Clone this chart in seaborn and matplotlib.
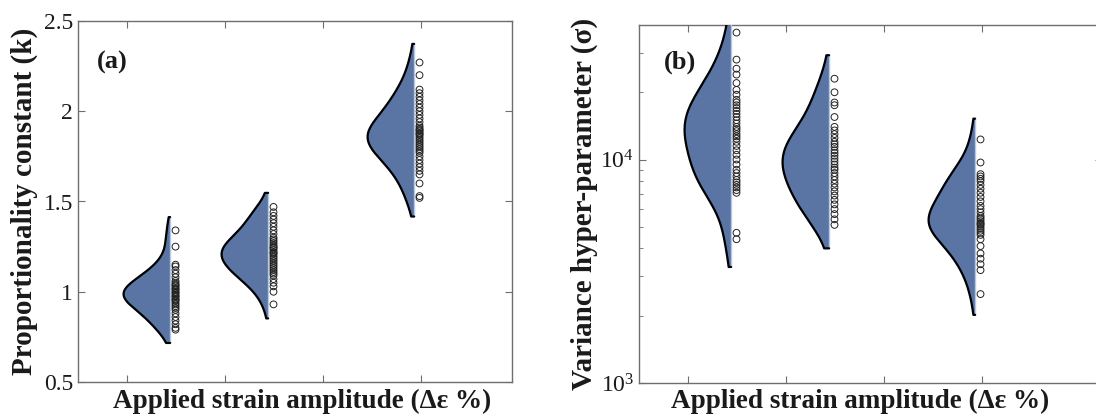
import numpy as np
import pandas as pd
import matplotlib
matplotlib.use("Agg")
import matplotlib.pyplot as plt
import seaborn as sns
from matplotlib.ticker import LogLocator, NullFormatter, FixedLocator

# ---------------- data ----------------
positions = [1.44, 2.44, 3.93]
x_ticks = [1, 2, 3, 4]

k_low = [1.34, 1.25, 1.15, 1.14, 1.12, 1.10, 1.08, 1.06, 1.05, 1.04, 1.035, 1.03,
         1.02, 1.015, 1.01, 1.00, 0.995, 0.99, 0.98, 0.975, 0.97, 0.96, 0.955,
         0.95, 0.94, 0.93, 0.92, 0.91, 0.90, 0.88, 0.86, 0.84, 0.82, 0.80, 0.79]
k_mid = [1.47, 1.44, 1.42, 1.40, 1.38, 1.36, 1.34, 1.32, 1.30, 1.29, 1.28, 1.27,
         1.26, 1.25, 1.245, 1.24, 1.23, 1.22, 1.215, 1.21, 1.20, 1.19, 1.18, 1.17,
         1.16, 1.15, 1.14, 1.13, 1.12, 1.11, 1.10, 1.09, 1.07, 1.05, 1.03, 1.00,
         0.93]
k_high = [2.27, 2.20, 2.12, 2.10, 2.08, 2.06, 2.04, 2.02, 2.00, 1.98, 1.96, 1.94,
          1.92, 1.91, 1.90, 1.895, 1.89, 1.88, 1.875, 1.87, 1.86, 1.85, 1.84, 1.83,
          1.82, 1.81, 1.80, 1.79, 1.78, 1.77, 1.75, 1.73, 1.71, 1.69, 1.67, 1.65,
          1.60, 1.53, 1.52]

s_low = [37000, 28000, 25500, 24000, 22000, 20500, 19500, 18500, 18000, 17500,
         17000, 16500, 16000, 15500, 15000, 14500, 14000, 13700, 13400, 13000,
         12700, 12400, 12000, 11500, 11000, 10500, 10000, 9500, 9000, 8700,
         8400, 8100, 7900, 7700, 7500, 7300, 7100, 4700, 4400]
s_mid = [23000, 20000, 18000, 17500, 15500, 14000, 13500, 13000, 12500, 12000,
         11700, 11400, 11000, 10700, 10400, 10100, 9800, 9500, 9200, 9000, 8700,
         8400, 8100, 7800, 7500, 7200, 6900, 6600, 6300, 6000, 5700, 5400, 5100]
s_high = [12300, 9700, 8600, 8400, 8200, 8000, 7700, 7400, 7100, 6800, 6500,
          6200, 6000, 5800, 5600, 5500, 5400, 5300, 5200, 5150, 5100, 5000, 4900,
          4800, 4700, 4600, 4400, 4100, 3800, 3600, 3400, 3200, 2500]

k_groups = [k_low, k_mid, k_high]
s_groups = [s_low, s_mid, s_high]

xlabel = "Applied strain amplitude (\u0394\u03b5 %)"
ylabel_a = "Proportionality constant (k)"
ylabel_b = "Variance hyper-parameter (\u03c3)"

# ---------------- style ----------------
VCOL = "#5a75a3"
CENTER = "#b4c8e8"
SPINE = "#6e6e6e"
TXT = "#1a1a1a"

sns.set_theme(style="white")
plt.rcParams["font.family"] = ["Liberation Serif", "DejaVu Serif"]
plt.rcParams["mathtext.fontset"] = "custom"
plt.rcParams["mathtext.rm"] = "Liberation Serif"
plt.rcParams["mathtext.it"] = "Liberation Serif:italic"
plt.rcParams["mathtext.bf"] = "Liberation Serif:bold"


def long_df(groups):
    return pd.DataFrame({
        "pos": np.repeat(positions, [len(g) for g in groups]),
        "val": np.concatenate([np.asarray(g, float) for g in groups]),
    })


def draw_panel(ax, groups, log):
    df = long_df(groups)
    n_before = len(ax.collections)
    sns.violinplot(data=df, x="pos", y="val", native_scale=True,
                   inner=None, cut=1.1, bw_adjust=1.15, gridsize=200,
                   density_norm="width", width=0.95,
                   color=VCOL, saturation=1, linewidth=0,
                   log_scale=(False, True) if log else None, ax=ax)
    bodies = list(ax.collections[n_before:])
    for coll in bodies:
        coll.set_edgecolor("none")
        v = coll.get_paths()[0].vertices.copy()
        pos = 0.5 * (v[:, 0].min() + v[:, 0].max())
        left = v[v[:, 0] < pos - 1e-9]
        left = left[np.argsort(left[:, 1])]
        half = v.copy()
        half[:, 0] = np.minimum(half[:, 0], pos)
        coll.set_verts([half])
        y0, y1 = v[:, 1].min(), v[:, 1].max()
        ax.vlines(pos, y0, y1, color=CENTER, lw=1.0, zorder=3)
        cx = np.concatenate([[pos], left[:, 0], [pos]])
        cy = np.concatenate([[y0], left[:, 1], [y1]])
        ax.plot(cx, cy, color="black", lw=1.6, zorder=4)
    sns.scatterplot(x=df["pos"] + 0.055, y=df["val"], ax=ax, marker="o", s=24,
                    facecolor="none", edgecolor="#222222", linewidth=0.7,
                    legend=False, zorder=5)
    ax.set_xticks(x_ticks)
    ax.set_xticklabels([])
    for s in ax.spines.values():
        s.set_color(SPINE)
        s.set_linewidth(1.0)
    ax.tick_params(which="both", direction="in", top=True, right=True,
                   bottom=True, left=True, color=SPINE, labelsize=17,
                   labelcolor=TXT)
    ax.tick_params(which="major", length=5, width=0.8)
    ax.tick_params(which="minor", length=3, width=0.6)


fig = plt.figure(figsize=(10.96, 4.15), dpi=100)
axA = fig.add_axes([78 / 1096, 33 / 415, 434 / 1096, 361 / 415])
axB = fig.add_axes([639 / 1096, 32 / 415, 463 / 1096, 358 / 415])

# panel (a)
draw_panel(axA, k_groups, log=False)
axA.set_xlim(0.5, 0.5 + 434 / 98)
axA.set_ylim(0.5, 2.5)
axA.set_yticks([0.5, 1, 1.5, 2, 2.5])
axA.set_yticklabels(["0.5", "1", "1.5", "2", "2.5"])
axA.set_xlabel(xlabel, fontsize=19.5, fontweight="bold", color=TXT)
axA.xaxis.set_label_coords((302 - 78) / 434, -0.018)
axA.set_ylabel(ylabel_a, fontsize=21, fontweight="bold", color=TXT)
axA.yaxis.set_label_coords((38 - 78) / 434, 0.5)
axA.text(0.044, 0.886, "(a)", transform=axA.transAxes, fontsize=19,
         fontweight="bold", va="center", ha="left", color=TXT)

# panel (b)
draw_panel(axB, s_groups, log=True)
axB.set_yscale("log")
axB.set_xlim(0.5, 0.5 + 463 / 98)
axB.set_ylim(1e3, 4e4)
axB.yaxis.set_major_locator(FixedLocator([1e3, 1e4]))
axB.yaxis.set_minor_locator(LogLocator(base=10, subs=np.arange(2, 10)))
axB.yaxis.set_minor_formatter(NullFormatter())
axB.tick_params(which="both", direction="in", top=True, right=True,
                left=True, bottom=True, color=SPINE, labelsize=17, labelcolor=TXT)
axB.set_xlabel(xlabel, fontsize=19.5, fontweight="bold", color=TXT)
axB.xaxis.set_label_coords((860 - 639) / 463, -0.016)
axB.set_ylabel(ylabel_b, fontsize=21, fontweight="bold", color=TXT)
axB.yaxis.set_label_coords((598 - 639) / 463, 0.5)
axB.text(0.054, 0.897, "(b)", transform=axB.transAxes, fontsize=19,
         fontweight="bold", va="center", ha="left", color=TXT)

fig.savefig("out.png", dpi=100)
